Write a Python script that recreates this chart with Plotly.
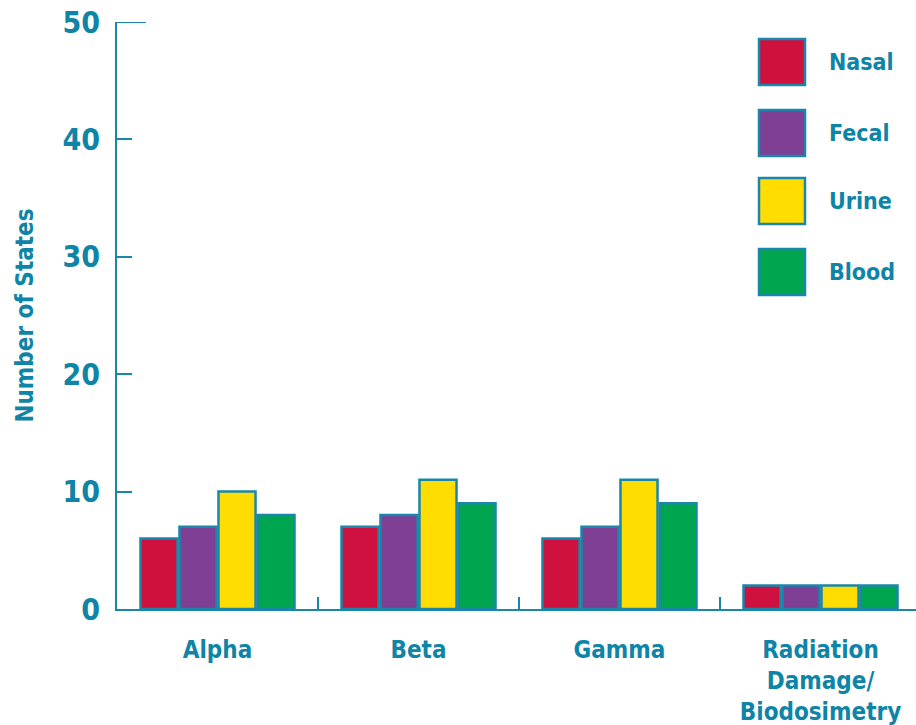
import plotly.graph_objects as go

# Categories of radiation assessed and the number of states per sample type
categories = ["Alpha", "Beta", "Gamma", "Radiation<br>Damage/<br>Biodosimetry"]
nasal = [6, 7, 6, 2]
fecal = [7, 8, 7, 2]
urine = [10, 11, 11, 2]
blood = [8, 9, 9, 2]

series_names = ["Nasal", "Fecal", "Urine", "Blood"]
series_values = [nasal, fecal, urine, blood]
series_colors = ["#CF1140", "#7E3F94", "#FFDD00", "#00A550"]

y_ticks = [0, 10, 20, 30, 40, 50]

TEAL = "#0E84A6"
LINE = "#1A86AA"
FONT = "DejaVu Sans Condensed, Liberation Sans Narrow, Arial Narrow, sans-serif"

W, H = 916, 725
L, R, T, B = 117, 0, 22, 116

fig = go.Figure()
for name, vals, col in zip(series_names, series_values, series_colors):
    fig.add_trace(go.Bar(
        x=categories, y=vals, name=name,
        marker=dict(color=col, line=dict(color=LINE, width=2.5)),
        showlegend=False,
    ))

plot_w = W - L - R
plot_h = H - T - B


def px_x(px):
    return (px - L) / plot_w


def px_y(py):
    return (H - B - py) / plot_h


# Legend drawn as large swatches with labels
legend_centers = [62, 133, 201, 272]
for name, col, cy in zip(series_names, series_colors, legend_centers):
    fig.add_shape(type="rect", xref="paper", yref="paper",
                  x0=px_x(759), x1=px_x(805), y0=px_y(cy + 23), y1=px_y(cy - 23),
                  fillcolor=col, line=dict(color=LINE, width=2.5))
    fig.add_annotation(xref="paper", yref="paper", x=px_x(827), y=px_y(cy),
                       text=name, showarrow=False, xanchor="left", yanchor="middle",
                       font=dict(family=FONT, size=23, color=TEAL, weight="bold"))

# Longer tick at the top of the value axis
fig.add_shape(type="line", xref="paper", yref="y", x0=0, x1=px_x(146), y0=50, y1=50,
              line=dict(color=LINE, width=2))

fig.update_layout(
    width=W, height=H,
    margin=dict(l=L, r=R, t=T, b=B),
    paper_bgcolor="white", plot_bgcolor="white",
    barmode="group", bargap=0.224, bargroupgap=0.05,
    font=dict(family=FONT, color=TEAL, weight="bold"),
)
fig.update_xaxes(
    range=[-0.5, -0.5 + plot_w / 201.0],
    showline=True, linecolor=LINE, linewidth=2,
    ticks="inside", tickson="boundaries", ticklen=12, tickwidth=2, tickcolor=LINE,
    showgrid=False, zeroline=False,
    tickfont=dict(family=FONT, size=24, color=TEAL, weight="bold"),
    ticklabelstandoff=18,
)
fig.update_yaxes(
    range=[0, 50], tickvals=y_ticks,
    showline=True, linecolor=LINE, linewidth=2,
    ticks="inside", ticklen=15, tickwidth=2, tickcolor=LINE,
    showgrid=False, zeroline=False,
    tickfont=dict(family=FONT, size=30, color=TEAL, weight="bold"),
    ticklabelstandoff=9,
    title=dict(text="Number of States", standoff=22,
               font=dict(family=FONT, size=24, color=TEAL, weight="bold")),
)

fig.write_html("out.html")
